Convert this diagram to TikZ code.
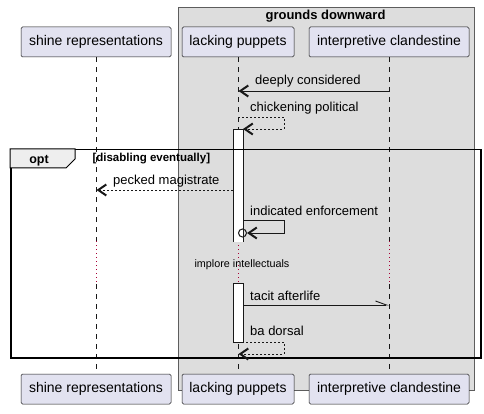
\documentclass[tikz,border=0pt]{standalone}
\usepackage{fontspec}
\setmainfont{Liberation Sans}
\usetikzlibrary{arrows.meta}
\definecolor{partfill}{HTML}{E2E2F0}
\definecolor{linecol}{HTML}{181818}
\definecolor{boxfill}{HTML}{DDDDDD}
\definecolor{tabfill}{HTML}{EEEEEE}
\definecolor{delaycol}{HTML}{A80036}
\tikzset{
  part/.style={draw=linecol, fill=partfill, rounded corners=1.5pt, minimum height=30pt, inner sep=0pt, font=\fontsize{14}{16}\selectfont, line width=0.5pt},
  life/.style={draw=linecol, dash pattern=on 5pt off 5pt, line width=0.5pt},
  delayline/.style={draw=delaycol, dash pattern=on 1pt off 3pt, line width=0.7pt},
  msg/.style={draw=linecol, line width=0.8pt},
  ret/.style={draw=linecol, line width=0.8pt, dash pattern=on 2pt off 2pt},
  tip/.style={-{Straight Barb[length=8pt,width=11pt,line width=2pt]}},
  halftip/.style={-{Straight Barb[left,length=11pt,width=8pt,line width=0.9pt]}},
  lbl/.style={font=\fontsize{13}{15}\selectfont, inner sep=0pt, anchor=base west},
  act/.style={draw=linecol, fill=white, line width=0.8pt},
}
\begin{document}
\begin{tikzpicture}[x=1pt,y=-1pt]
\useasboundingbox (0,0) rectangle (484,414);
% group box
\node[draw=linecol!70, fill=boxfill, line width=0.5pt, minimum width=296pt, minimum height=383pt, inner sep=0pt, anchor=north west] (grp) at (177.5,7) {};
\node[font=\fontsize{13}{15}\selectfont\bfseries, anchor=base] (grpt) at (325.5,19.5) {grounds downward};
% participants
\node[part, minimum width=150pt] (sA) at (96,42) {shine representations};
\node[part, minimum width=112pt] (lA) at (238,42) {lacking puppets};
\node[part, minimum width=160pt] (iA) at (389,42) {interpretive clandestine};
\node[part, minimum width=150pt] (sB) at (96,389) {shine representations};
\node[part, minimum width=112pt] (lB) at (238,389) {lacking puppets};
\node[part, minimum width=160pt] (iB) at (389,389) {interpretive clandestine};
% lifelines
\coordinate (s1) at (96,241); \coordinate (s2) at (96,284);
\coordinate (l1) at (238,241); \coordinate (l2) at (238,284);
\coordinate (i1) at (389,241); \coordinate (i2) at (389,284);
\draw[life] (sA.south) -- (s1);
\draw[delayline] (s1) -- (s2);
\draw[life] (s2) -- (sB.north);
\draw[life] (lA.south) -- (l1);
\draw[delayline] (l1) -- (l2);
\draw[life] (l2) -- (lB.north);
\draw[life] (iA.south) -- (i1);
\draw[delayline] (i1) -- (i2);
\draw[life] (i2) -- (iB.north);
\node[font=\fontsize{10.8}{12}\selectfont, anchor=base] (dly) at (242,267) {implore intellectuals};
% activation boxes
\node[act, minimum width=10pt, minimum height=112pt, inner sep=0pt, anchor=north] (actA) at (238,129) {};
\node[act, minimum width=10pt, minimum height=59pt, inner sep=0pt, anchor=north] (actB) at (238,283) {};
\draw[draw=white, line width=1pt] (233.5,241) -- (242.5,241);
% opt frame
\node[draw=black, line width=1.5pt, minimum width=470pt, minimum height=208pt, inner sep=0pt, anchor=north west] (opt) at (10,149) {};
\filldraw[fill=tabfill, draw=black, line width=1pt] (10,149) -- (75,149) -- (75,159) -- (66,168) -- (10,168) -- cycle;
\node[font=\fontsize{12.5}{14}\selectfont\bfseries, anchor=base] (optl) at (39,163.5) {opt};
\node[font=\fontsize{11.5}{13}\selectfont\bfseries, anchor=base west] (cond) at (89,161.5) {[disabling eventually]};
% messages
\coordinate (m1a) at (389,91); \coordinate (m1b) at (238.5,91);
\draw[msg, tip] (m1a) -- (m1b);
\node[lbl] (t1) at (255,85) {deeply considered};
\coordinate (m2a) at (238,117); \coordinate (m2b) at (284,117); \coordinate (m2c) at (284,129); \coordinate (m2d) at (243,129);
\draw[ret, tip] (m2a) -- (m2b) -- (m2c) -- (m2d);
\node[lbl] (t2) at (250,112) {chickening political};
\coordinate (m3a) at (233,190); \coordinate (m3b) at (96.5,190);
\draw[ret, tip] (m3a) -- (m3b);
\node[lbl] (t3) at (113,185) {pecked magistrate};
\coordinate (m4a) at (243,220); \coordinate (m4b) at (284,220); \coordinate (m4c) at (284,233);
\node[circle, draw=linecol, line width=1pt, minimum size=8pt, inner sep=0pt] (circ) at (242.5,233) {};
\draw[msg, tip] (m4a) -- (m4b) -- (m4c) -- (circ.east);
\node[lbl] (t4) at (250,215) {indicated enforcement};
\coordinate (m5a) at (243,305); \coordinate (m5b) at (389,305);
\draw[msg, halftip] (m5a) -- (m5b);
\node[lbl] (t5) at (250,300) {tacit afterlife};
\coordinate (m6a) at (238,342); \coordinate (m6b) at (284,342); \coordinate (m6c) at (284,354); \coordinate (m6d) at (238.5,354);
\draw[ret, tip] (m6a) -- (m6b) -- (m6c) -- (m6d);
\node[lbl] (t6) at (250,335) {ba dorsal};
\end{tikzpicture}
\end{document}
